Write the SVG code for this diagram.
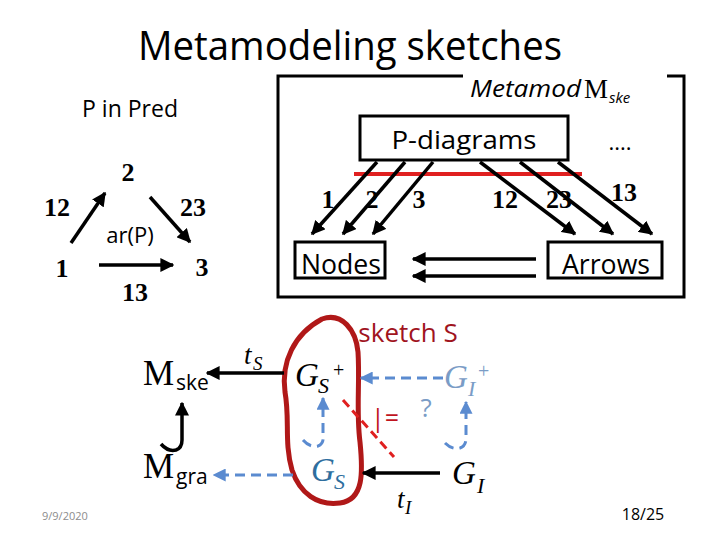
<svg xmlns="http://www.w3.org/2000/svg" width="720" height="540" viewBox="0 0 720 540">
<defs>
<style>
.sans{font-family:"Open Sans","Noto Sans","Liberation Sans",sans-serif;}
.serif{font-family:"Liberation Serif","DejaVu Serif",serif;}
.num{font-family:"Liberation Serif",serif;font-weight:bold;font-size:26px;}
.blk{stroke:#000;stroke-width:3.5;fill:none;}
.blu{stroke:#5b8bd0;stroke-width:3;fill:none;stroke-dasharray:10 6;}
.box{fill:#fff;stroke:#000;stroke-width:3;}
</style>
<marker id="ah" viewBox="0 0 10 10" refX="9" refY="5" markerWidth="14" markerHeight="14" markerUnits="userSpaceOnUse" orient="auto"><path d="M0,0 L10,5 L0,10 Z" fill="#000"/></marker>
<marker id="ahb" viewBox="0 0 10 10" refX="9" refY="5" markerWidth="13" markerHeight="13" markerUnits="userSpaceOnUse" orient="auto"><path d="M0,0 L10,5 L0,10 Z" fill="#5b8bd0"/></marker>
</defs>
<rect width="720" height="540" fill="#fff"/>

<text class="sans" x="350" y="60" font-size="40" text-anchor="middle" textLength="424" lengthAdjust="spacingAndGlyphs">Metamodeling sketches</text>
<text class="sans" x="82" y="117" font-size="24" textLength="96" lengthAdjust="spacingAndGlyphs">P in Pred</text>

<g id="frame">
<path d="M463,76 L278,76 L278,297 L684,297 L684,76 L667,76" fill="none" stroke="#000" stroke-width="3"/>
<text x="470" y="97" font-size="24" class="sans" font-style="italic" textLength="111" lengthAdjust="spacingAndGlyphs">Metamod</text>
<text x="584" y="98" font-size="27" class="serif">M</text>
<text x="609" y="103" font-size="15" class="sans" font-style="italic">ske</text>
<text x="620" y="150" font-size="22" class="sans" text-anchor="middle">....</text>
<text class="num" x="328" y="208" text-anchor="middle" font-size="28">1</text>
<text class="num" x="372" y="208" text-anchor="middle" font-size="28">2</text>
<text class="num" x="419" y="208" text-anchor="middle" font-size="28">3</text>
<text class="num" x="505" y="208" text-anchor="middle" font-size="28">12</text>
<text class="num" x="559" y="208" text-anchor="middle" font-size="28">23</text>
<text class="num" x="624" y="201" text-anchor="middle" font-size="28">13</text>
</g>

<g id="left-diagram">
<text class="num" x="128" y="181" text-anchor="middle">2</text>
<text class="num" x="57" y="216" text-anchor="middle">12</text>
<text class="num" x="193" y="216" text-anchor="middle">23</text>
<text class="sans" x="130" y="243" font-size="22" text-anchor="middle">ar(P)</text>
<text class="num" x="62" y="277" text-anchor="middle" font-size="30">1</text>
<text class="num" x="202" y="276" text-anchor="middle">3</text>
<text class="num" x="135" y="301" text-anchor="middle">13</text>
</g>

<g id="p-diagrams"><rect class="box" x="360" y="116" width="208" height="44"/><text class="sans" x="464" y="149" font-size="26" text-anchor="middle" textLength="145" lengthAdjust="spacingAndGlyphs">P-diagrams</text></g>
<g id="nodes"><rect class="box" x="295" y="242" width="90" height="36"/><text class="sans" x="341" y="274" font-size="27" text-anchor="middle" textLength="80" lengthAdjust="spacingAndGlyphs">Nodes</text></g>
<g id="arrows"><rect class="box" x="548" y="242" width="114" height="36"/><text class="sans" x="606" y="274" font-size="27" text-anchor="middle" textLength="88" lengthAdjust="spacingAndGlyphs">Arrows</text></g>

<g id="mske"><text class="serif" x="143" y="385" font-size="35">M</text><text class="sans" x="176" y="390" font-size="21">ske</text></g>
<g id="mgra"><text class="serif" x="143" y="478" font-size="35">M</text><text class="sans" x="176" y="484" font-size="21">gra</text></g>

<g id="sketch">
<text class="sans" x="408" y="342" font-size="26" fill="#a0141e" text-anchor="middle">sketch S</text>
<path d="M322,319 C342,312 356,330 358,352 C360,382 356,412 360,442 C363,472 364,500 340,503 C318,506 300,494 292,470 C284,442 290,420 285,392 C281,362 294,334 322,319 Z" fill="none" stroke="#b01818" stroke-width="5" stroke-linejoin="round"/>
</g>
<g id="gsplus"><text class="serif" x="295" y="386" font-size="33" font-style="italic">G</text><text class="serif" x="318" y="393" font-size="22" font-style="italic">S</text><text class="serif" x="333" y="377" font-size="20">+</text></g>
<g id="giplus" fill="#7a9cc6"><text class="serif" x="444" y="388" font-size="33" font-style="italic">G</text><text class="serif" x="468" y="396" font-size="22" font-style="italic">I</text><text class="serif" x="478" y="378" font-size="20">+</text></g>
<g id="gs" fill="#2e6e9e"><text class="serif" x="311" y="481" font-size="33" font-style="italic">G</text><text class="serif" x="334" y="489" font-size="22" font-style="italic">S</text></g>
<g id="gi"><text class="serif" x="452" y="484" font-size="33" font-style="italic">G</text><text class="serif" x="477" y="493" font-size="22" font-style="italic">I</text></g>
<text class="sans" x="371" y="427" font-size="25" fill="#c0141e">|=</text>
<text class="sans" x="426" y="417" font-size="26" fill="#7a9cc6" text-anchor="middle">?</text>

<g id="connectors">
<line x1="354" y1="174" x2="582" y2="174" stroke="#e02020" stroke-width="4"/>
<line class="blk" x1="377" y1="162" x2="312" y2="234" marker-end="url(#ah)"/>
<line class="blk" x1="405" y1="162" x2="343" y2="234" marker-end="url(#ah)"/>
<line class="blk" x1="433" y1="162" x2="373" y2="234" marker-end="url(#ah)"/>
<line class="blk" x1="480" y1="162" x2="575" y2="234" marker-end="url(#ah)"/>
<line class="blk" x1="520" y1="162" x2="613" y2="234" marker-end="url(#ah)"/>
<line class="blk" x1="558" y1="162" x2="652" y2="234" marker-end="url(#ah)"/>
<line class="blk" x1="536" y1="259" x2="413" y2="259" marker-end="url(#ah)"/>
<line class="blk" x1="536" y1="276" x2="413" y2="276" marker-end="url(#ah)"/>
<line class="blk" x1="71" y1="243" x2="105" y2="193" marker-end="url(#ah)"/>
<line class="blk" x1="150" y1="197" x2="190" y2="242" marker-end="url(#ah)"/>
<line class="blk" x1="99" y1="265" x2="173" y2="265" marker-end="url(#ah)"/>
<line class="blk" x1="284" y1="373" x2="207" y2="373" marker-end="url(#ah)"/>
<text class="serif" x="244" y="364" font-size="27" font-style="italic">t</text><text class="serif" x="253" y="370" font-size="19" font-style="italic">S</text>
<path class="blk" d="M161,444 Q168,452 176,450 Q182,448 182,440 L182,403" stroke-width="3" marker-end="url(#ah)"/>
<line class="blu" x1="293" y1="475" x2="214" y2="475" marker-end="url(#ahb)"/>
<line class="blu" x1="443" y1="378" x2="361" y2="378" marker-end="url(#ahb)"/>
<path class="blu" d="M303,440 Q310,448 318,446 Q324,444 323,436 L323,398" marker-end="url(#ahb)"/>
<path class="blu" d="M445,443 Q452,450 460,448 Q466,446 466,438 L466,402" marker-end="url(#ahb)"/>
<line x1="343" y1="400" x2="394" y2="457" stroke="#e02020" stroke-width="3" stroke-dasharray="9 5"/>
<line class="blk" x1="440" y1="473" x2="363" y2="473" marker-end="url(#ah)"/>
<text class="serif" x="397" y="508" font-size="27" font-style="italic">t</text><text class="serif" x="405" y="514" font-size="19" font-style="italic">I</text>
</g>

<text class="sans" x="42" y="520" font-size="11" fill="#8c8c8c">9/9/2020</text>
<text class="sans" x="643" y="520" font-size="16" text-anchor="middle">18/25</text>
</svg>
